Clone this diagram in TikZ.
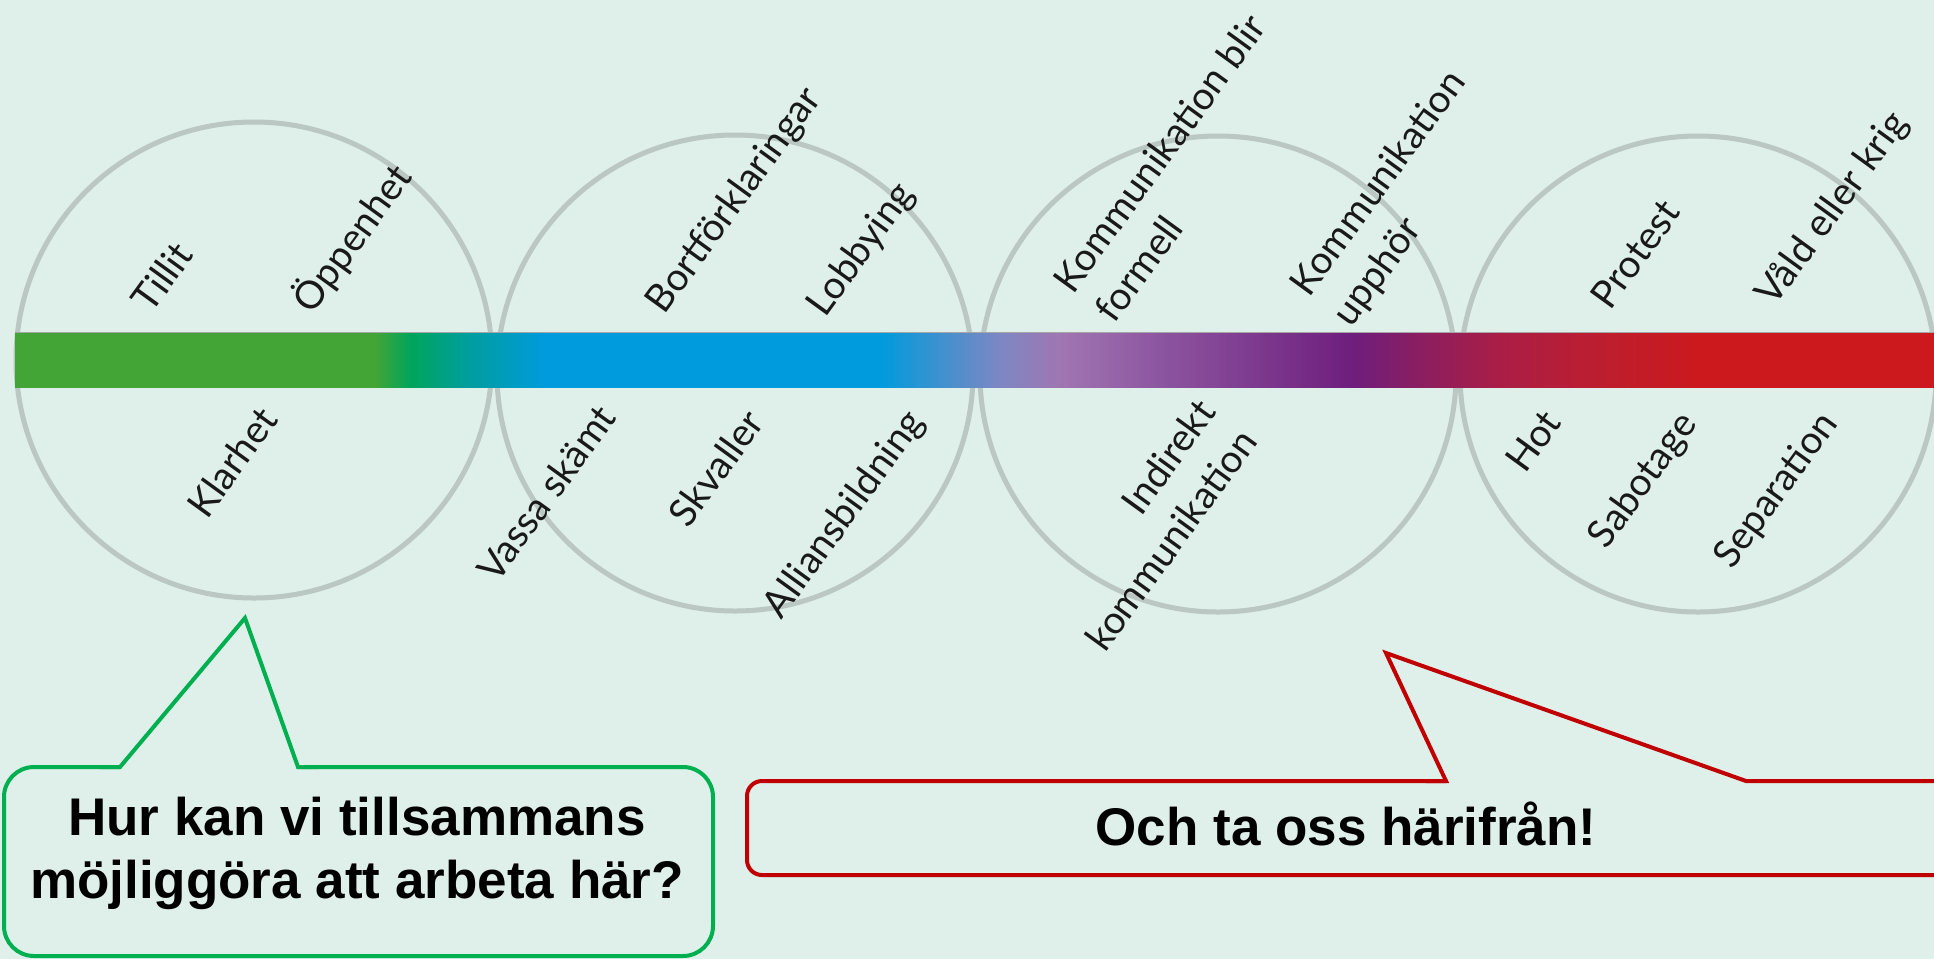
\documentclass[tikz,border=0pt]{standalone}
\usepackage{fontspec}
\newfontfamily\lato{Lato}
\newfontfamily\bubblefont{Liberation Sans}
\definecolor{bgc}{RGB}{223,239,234}
\definecolor{circc}{RGB}{186,199,195}
\definecolor{gbub}{RGB}{0,176,80}
\definecolor{rbub}{RGB}{192,0,0}
\definecolor{s1}{RGB}{67,165,53}
\definecolor{s2}{RGB}{0,165,90}
\definecolor{s3}{RGB}{0,158,155}
\definecolor{s4}{RGB}{0,155,220}
\definecolor{s5}{RGB}{125,135,195}
\definecolor{s6}{RGB}{160,118,178}
\definecolor{s7}{RGB}{140,85,160}
\definecolor{s8}{RGB}{110,30,125}
\definecolor{s9}{RGB}{135,30,100}
\definecolor{s10}{RGB}{170,30,70}
\definecolor{s11}{RGB}{190,30,45}
\definecolor{s12}{RGB}{203,25,30}
\pgfdeclarehorizontalshading{barshade}{100bp}{color(0bp)=(s1); color(25bp)=(s1); color(34.38bp)=(s1); color(35.29bp)=(s2); color(36.72bp)=(s3); color(38.81bp)=(s4); color(47.54bp)=(s4); color(50.66bp)=(s5); color(52.23bp)=(s6); color(54.83bp)=(s7); color(59.86bp)=(s8); color(61.35bp)=(s9); color(63.69bp)=(s10); color(66.48bp)=(s11); color(68.90bp)=(s12); color(75bp)=(s12); color(100bp)=(s12)}
\begin{document}
\begin{tikzpicture}[x=1pt,y=-1pt,
  ring/.style={circle, draw=circc, line width=5pt, minimum size=476pt, inner sep=0pt},
  lbl/.style={rotate=54, inner sep=0pt, text=black!90, font=\lato\fontsize{38.5}{51}\selectfont},
  bubtext/.style={inner sep=0pt, text=black, font=\bubblefont\bfseries\fontsize{53}{63}\selectfont},
  gline/.style={draw=gbub, line width=4pt},
  rline/.style={draw=rbub, line width=4pt}]
\useasboundingbox (0,0) rectangle (1934,959);
\fill[bgc] (0,0) rectangle (1934,959);
\clip (0,0) rectangle (1934,959);
% circles
\node[ring] (c1) at (254,360) {};
\node[ring] (c2) at (735,373) {};
\node[ring] (c3) at (1218,374) {};
\node[ring] (c4) at (1698,374) {};
% gradient bar
\shade[shading=barshade] (15,332) rectangle (1934,387);
\draw[black!35, line width=1pt] (15,332.5) -- (1934,332.5);
% labels circle 1
\node[lbl] (tillit) at (162,277) {Tillit};
\node[lbl] (oppenhet) at (352,238) {Öppenhet};
\node[lbl] (klarhet) at (232,462) {Klarhet};
% circle 2
\node[lbl] (bort) at (735,201) {Bortförklaringar};
\node[lbl] (lobby) at (862,250) {Lobbying};
\node[lbl] (vassa) at (546,493) {Vassa skämt};
\node[lbl] (skvaller) at (716,468) {Skvaller};
\node[lbl] (allians) at (845,515) {Alliansbildning};
% circle 3
\node[lbl, align=left] (formell) at (1180,168) {Kommunikation blir\\formell};
\node[lbl, align=left] (upphor) at (1400,199) {Kommunikation\\upphör};
\node[lbl, align=right] (indirekt) at (1150,525) {Indirekt\\kommunikation};
% circle 4
\node[lbl] (protest) at (1635,254) {Protest};
\node[lbl] (vald) at (1833,209) {Våld eller krig};
\node[lbl] (hot) at (1533,441) {Hot};
\node[lbl] (sabotage) at (1644,481) {Sabotage};
\node[lbl] (separation) at (1777,491) {Separation};
% green bubble
\draw[gline, rounded corners=30pt] (120,767) -- (4,767) -- (4,956) -- (713,956) -- (713,767) -- (298,767);
\draw[gline, line join=miter] (100,767) -- (120,767) -- (245,618) -- (298,767) -- (318,767);
\node[bubtext, align=center, anchor=base] (gtext) at (357,898) {Hur kan vi tillsammans\\möjliggöra att arbeta här?};
% red bubble
\draw[rline, rounded corners=15pt] (1446,781) -- (747,781) -- (747,875) -- (1960,875);
\draw[rline, line join=miter] (1426,781) -- (1446,781) -- (1386,653) -- (1746,781) -- (1960,781);
\node[bubtext, anchor=base] (rtext) at (1346,845) {Och ta oss härifrån!};
\end{tikzpicture}
\end{document}
